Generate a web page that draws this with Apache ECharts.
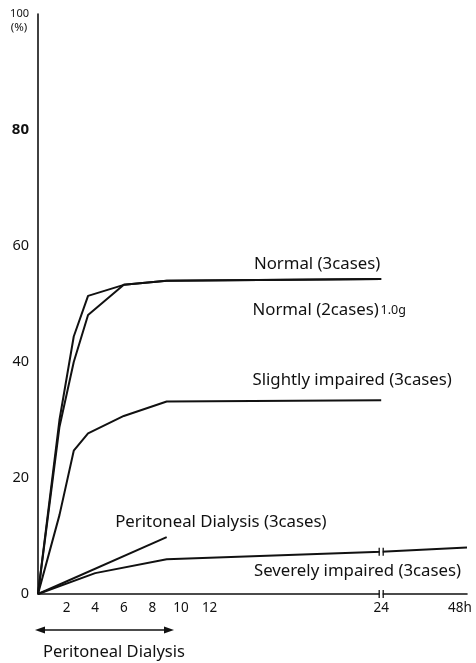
<!DOCTYPE html>
<html>
<head>
<meta charset="utf-8">
<script src="https://cdn.jsdelivr.net/npm/echarts@6/dist/echarts.min.js"></script>
<style>html,body{margin:0;padding:0;background:#fff}#c{width:476px;height:663px}</style>
</head>
<body>
<div id="c"></div>
<script>
// ---- data (hours, % recovery) ----
const normal3Hours = [0, 1.5, 2.5, 3.5, 6, 9, 24];
const normal3Values = [0, 30.0, 44.4, 51.4, 53.3, 54.0, 54.3];
const normal2Hours = [0, 1.5, 2.5, 3.5, 6, 9, 24];
const normal2Values = [0, 28.8, 40.0, 48.1, 53.3, 54.0, 54.3];
const slightHours = [0, 1.5, 2.5, 3.5, 6, 9, 24];
const slightValues = [0, 13.6, 24.7, 27.7, 30.7, 33.2, 33.4];
const peritonealHours = [0, 9];
const peritonealValues = [0, 9.8];
const severeHours = [0, 4, 9, 24, 48];
const severeValues = [0, 3.6, 6.0, 7.3, 8.0];

const xTickHours = [2, 4, 6, 8, 10, 12, 24, 48];
const xTickLabels = ['2', '4', '6', '8', '10', '12', '24', '48h'];
const yTicks = [0, 20, 40, 60, 80, 100];
const breakHours = [24];

// annotations [text, hour, value]
const annotations = [
  ['Normal (3cases)', 15.1, 56.9],
  ['Normal (2cases)', 15.0, 49.0],
  ['Slightly impaired (3cases)', 15.0, 36.9],
  ['Peritoneal Dialysis (3cases)', 5.4, 12.4],
  ['Severely impaired (3cases)', 15.1, 3.9]
];
const dialysisSpan = [0, 9.3];

// broken time axis: after 24 h the scale is compressed 4x
const toAxis = h => (h <= 24 ? h : 24 + (h - 24) / 4);
const pairs = (hs, vs) => hs.map((h, i) => [toAxis(h), vs[i]]);

const FONT = 'Noto Sans';
const chart = echarts.init(document.getElementById('c'));
const lineStyle = { color: '#111', width: 2 };
const mk = (name, hs, vs) => ({
  name, type: 'line', data: pairs(hs, vs), symbol: 'none',
  lineStyle, silent: true, animation: false, z: 3
});

chart.setOption({
  animation: false,
  backgroundColor: '#fff',
  grid: { left: 38, right: 9, top: 14, bottom: 69, containLabel: false },
  xAxis: {
    type: 'value', min: 0, max: 30,
    axisLine: { lineStyle: { color: '#111', width: 1.6 } },
    axisTick: { show: false },
    splitLine: { show: false },
    axisLabel: {
      customValues: xTickHours.map(toAxis),
      color: '#111', fontFamily: FONT, fontSize: 13.5, margin: 7,
      formatter: v => {
        const i = xTickHours.map(toAxis).indexOf(v);
        const t = i >= 0 ? xTickLabels[i] : '';
        return t === '48h' ? '{r|48h}' : t;
      },
      rich: { r: { padding: [0, 14, 0, 0], fontSize: 13.5, fontFamily: FONT, color: '#111' } }
    }
  },
  yAxis: {
    type: 'value', min: 0, max: 100, interval: 20,
    axisLine: { show: true, lineStyle: { color: '#111', width: 1.6 } },
    axisTick: { show: false },
    splitLine: { show: false },
    axisLabel: {
      customValues: yTicks,
      color: '#111', fontFamily: FONT, fontSize: 14.5, margin: 9,
      formatter: v => v === 100 ? '{s|100}' : (v === 80 ? '{b|80}' : String(v)),
      rich: {
        s: { fontSize: 11, fontFamily: FONT, color: '#111' },
        b: { fontSize: 15, fontWeight: 'bold', fontFamily: FONT, color: '#111' }
      }
    }
  },
  series: [
    mk('Normal (3cases)', normal3Hours, normal3Values),
    mk('Normal (2cases)', normal2Hours, normal2Values),
    mk('Slightly impaired', slightHours, slightValues),
    mk('Peritoneal Dialysis', peritonealHours, peritonealValues),
    mk('Severely impaired', severeHours, severeValues),
    {
      type: 'custom', clip: false, silent: true, z: 5,
      data: [[toAxis(breakHours[0]), 0], [toAxis(breakHours[0]), severeValues[3]]],
      renderItem: (params, api) => {
        const p = api.coord([api.value(0), api.value(1)]);
        return {
          type: 'group', children: [
            { type: 'rect', shape: { x: p[0] - 1.5, y: p[1] - 3, width: 3, height: 6 }, style: { fill: '#fff' } },
            { type: 'line', shape: { x1: p[0] - 2, y1: p[1] - 4, x2: p[0] - 2, y2: p[1] + 4 }, style: { stroke: '#111', lineWidth: 1.3 } },
            { type: 'line', shape: { x1: p[0] + 2, y1: p[1] - 4, x2: p[0] + 2, y2: p[1] + 4 }, style: { stroke: '#111', lineWidth: 1.3 } }
          ]
        };
      }
    }
  ]
});

// annotations placed through the chart's own scales
const px = (h, v) => chart.convertToPixel({ gridIndex: 0 }, [toAxis(h), v]);
const g = [];
annotations.forEach(([text, h, v]) => {
  const p = px(h, v);
  g.push({ type: 'text', x: p[0], y: p[1], style: { text, fontFamily: FONT, fontSize: 16.8, fill: '#111', verticalAlign: 'middle', align: 'left' } });
});
// "1.0g" after Normal (2cases)
{
  const p = px(annotations[1][1], annotations[1][2]);
  g.push({ type: 'text', x: p[0] + 128, y: p[1] + 1, style: { text: '1.0g', fontFamily: FONT, fontSize: 12.5, fill: '#111', verticalAlign: 'middle' } });
}
// (%) under 100
{
  const p = px(0, 100);
  g.push({ type: 'text', x: p[0] - 19, y: p[1] + 14, style: { text: '(%)', fontFamily: FONT, fontSize: 11.5, fill: '#111', align: 'center', verticalAlign: 'middle' } });
}
// dialysis span arrow below the axis
{
  const a = px(dialysisSpan[0], 0), b = px(dialysisSpan[1], 0);
  const y = a[1] + 36;
  g.push({ type: 'line', shape: { x1: a[0] + 2, y1: y, x2: b[0] - 2, y2: y }, style: { stroke: '#111', lineWidth: 1.5 } });
  g.push({ type: 'polygon', shape: { points: [[a[0] - 3, y], [a[0] + 7, y - 3.5], [a[0] + 7, y + 3.5]] }, style: { fill: '#111' } });
  g.push({ type: 'polygon', shape: { points: [[b[0] + 3, y], [b[0] - 7, y - 3.5], [b[0] - 7, y + 3.5]] }, style: { fill: '#111' } });
  g.push({ type: 'text', x: a[0] + 5, y: y + 22, style: { text: 'Peritoneal Dialysis', fontFamily: FONT, fontSize: 16.5, fill: '#111', verticalAlign: 'middle' } });
}
chart.setOption({ graphic: g });
</script>
</body>
</html>
